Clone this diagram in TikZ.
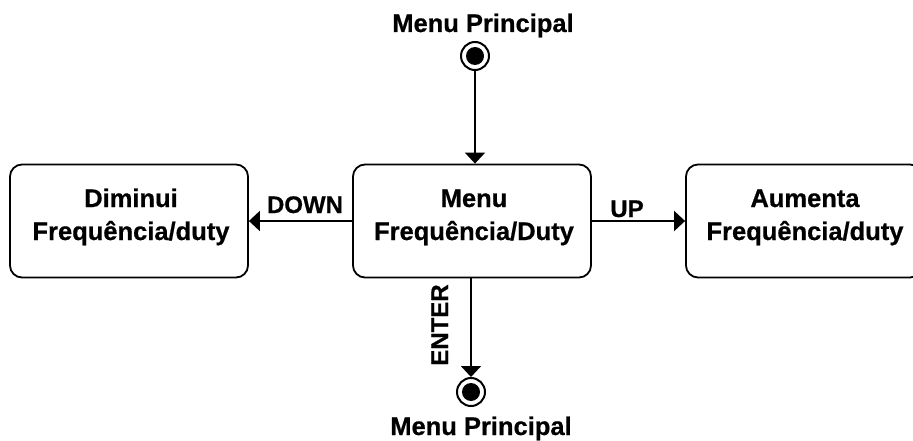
\documentclass[tikz,border=0pt]{standalone}
\usepackage{fontspec}
\setmainfont{Liberation Sans}[BoldFeatures={FakeBold=0.6}]
\usetikzlibrary{arrows.meta}

\tikzset{
  state/.style={draw, line width=1.8pt, rounded corners=12pt, inner sep=0pt,
    minimum height=113pt},
  boxtext/.style={font=\fontsize{25.5}{33}\selectfont\bfseries, align=center,
    inner sep=0pt, anchor=base},
  lbl/.style={font=\fontsize{24}{28}\selectfont\bfseries, inner sep=0pt, anchor=base},
  bullseye/.style={circle, draw, line width=2pt, minimum size=28pt, inner sep=0pt,
    path picture={\fill (path picture bounding box.center) circle (9pt);}},
  flow/.style={line width=1.8pt, -{Triangle[length=11pt,width=20pt]}}
}

\begin{document}
\begin{tikzpicture}[x=1pt, y=-1pt]
  \useasboundingbox (0,0) rectangle (913,441);
  \clip (0,0) rectangle (913,441);

  % states
  \node[state, minimum width=238pt] (left)  at (129,221) {};
  \node[state, minimum width=238pt] (mid)   at (472,221) {};
  \node[state, minimum width=236pt] (right) at (804,221) {};

  % two-line captions: base anchor sits on the last line
  \node[boxtext] (lefttxt)  at (131,240) {Diminui\\Frequência/duty};
  \node[boxtext] (midtxt)   at (474,240) {Menu\\Frequência/Duty};
  \node[boxtext] (righttxt) at (805,240) {Aumenta\\Frequência/duty};

  % initial and final markers
  \node[bullseye] (start) at (475,56) {};
  \node[bullseye] (stop)  at (471,392) {};
  \node[boxtext] (starttxt) at (483,32) {Menu Principal};
  \node[boxtext] (stoptxt)  at (481,435) {Menu Principal};

  % transitions
  \draw[flow] (start.south) -- (start.south |- mid.north);
  \draw[flow] (mid.west) -- (left.east);
  \draw[flow] (mid.east) -- (right.west);
  \draw[flow] (stop.north |- mid.south) -- (stop.north);

  \node[lbl] (down)  at (305,213) {DOWN};
  \node[lbl] (up)    at (627,217) {UP};
  \node[lbl, rotate=90] (enter) at (448,325) {ENTER};
\end{tikzpicture}
\end{document}
